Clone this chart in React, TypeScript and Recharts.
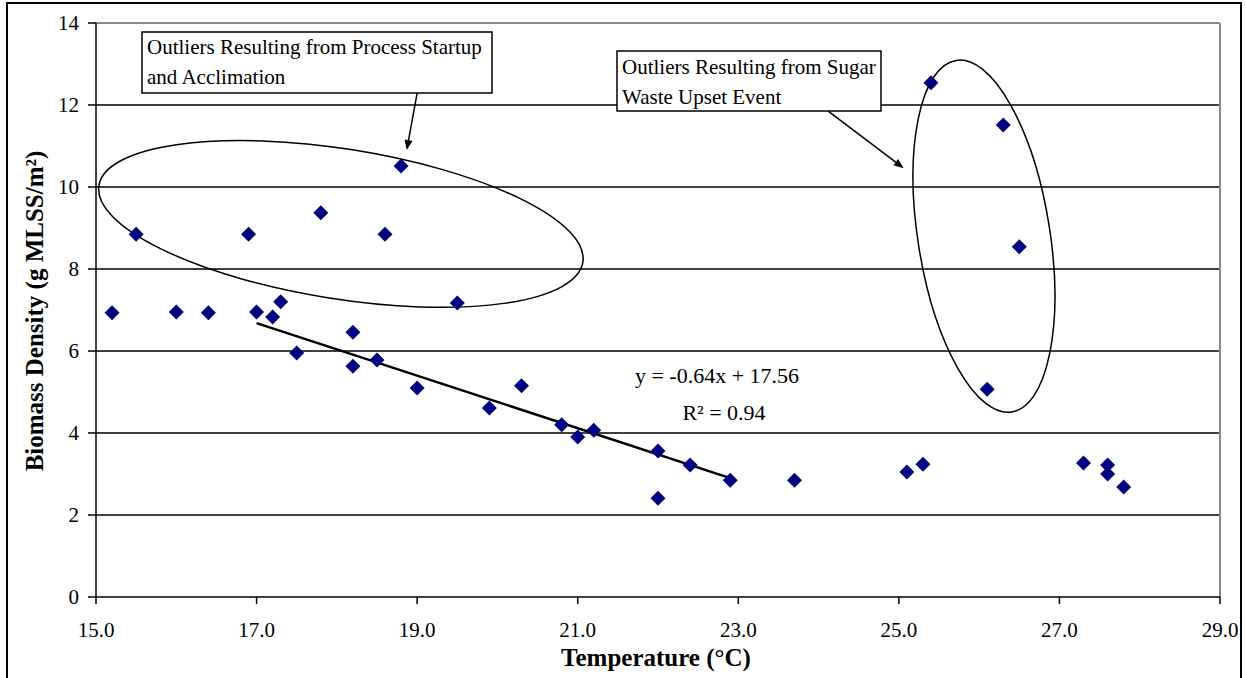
import { ScatterChart, Scatter, XAxis, YAxis, CartesianGrid, ReferenceLine, ReferenceDot } from 'recharts'

// temperature (°C) and biomass density (g MLSS/m²)
const temps = [15.2, 15.5, 16.0, 16.4, 16.9, 17.0, 17.2, 17.3, 17.5, 17.8, 18.2, 18.2, 18.5, 18.6, 18.8, 19.0, 19.5, 19.9, 20.3, 20.8, 21.0, 21.2, 22.0, 22.0, 22.4, 22.9, 23.7, 25.1, 25.3, 25.4, 26.1, 26.3, 26.5, 27.3, 27.6, 27.6, 27.8]
const density = [6.93, 8.85, 6.95, 6.93, 8.85, 6.95, 6.83, 7.2, 5.95, 9.37, 6.46, 5.63, 5.78, 8.85, 10.51, 5.1, 7.17, 4.61, 5.15, 4.2, 3.9, 4.07, 3.56, 2.41, 3.22, 2.85, 2.85, 3.05, 3.24, 12.54, 5.07, 11.51, 8.54, 3.27, 3.22, 3.0, 2.68]

// linear trend line end points
const trendX = [17.0, 22.9]
const trendY = [6.68, 2.9]

const xTicks = [15, 17, 19, 21, 23, 25, 27, 29]
const yTicks = [0, 2, 4, 6, 8, 10, 12, 14]

const points = temps.map((t, i) => ({ x: t, y: density[i] }))
const trend = trendX.map((t, i) => ({ x: t, y: trendY[i] }))

const FONT = "'Liberation Serif', 'Times New Roman', serif"
const NAVY = '#000080'

function Diamond(p: any) {
  const { cx, cy } = p
  const r = 7.5
  return <polygon points={`${cx},${cy - r} ${cx + r},${cy} ${cx},${cy + r} ${cx - r},${cy}`} fill={NAVY} />
}

function Arrow(p: any) {
  const { x1, y1, x2, y2 } = p
  const a = Math.atan2(y2 - y1, x2 - x1)
  const L = 10, W = 4
  const bx = x2 - L * Math.cos(a), by = y2 - L * Math.sin(a)
  const px = -Math.sin(a) * W, py = Math.cos(a) * W
  return (
    <g>
      <line x1={x1} y1={y1} x2={bx} y2={by} stroke="#000" strokeWidth={1.5} />
      <polygon points={`${x2},${y2} ${bx + px},${by + py} ${bx - px},${by - py}`} fill="#000" />
    </g>
  )
}

function ellipse(rx: number, ry: number, rot: number) {
  return (p: any) => (
    <ellipse cx={p.cx} cy={p.cy} rx={rx} ry={ry} transform={`rotate(${rot} ${p.cx} ${p.cy})`} fill="none" stroke="#000" strokeWidth={1.5} />
  )
}

export default function App() {
  const tick = { fontSize: 21, fill: '#000', fontFamily: FONT }
  return (
    <div style={{ position: 'absolute', left: 0, top: 0, width: 1246, height: 678, overflow: 'hidden', background: '#fff', fontFamily: FONT }}>
      <div style={{ position: 'absolute', left: 6, top: 2, width: 1236, height: 740, border: '2px solid #000', boxSizing: 'border-box' }} />
      <ScatterChart width={1246} height={678} margin={{ top: 23, right: 26, bottom: 0, left: 0 }} style={{ position: 'absolute', left: 0, top: 0 }}>
        <CartesianGrid vertical={false} horizontalValues={[2, 4, 6, 8, 10, 12]} stroke="#000" strokeWidth={1.5} />
        <ReferenceLine y={14} stroke="#8a8a8a" strokeWidth={2} />
        <ReferenceLine x={29} stroke="#8a8a8a" strokeWidth={2} />
        <XAxis type="number" dataKey="x" domain={[15, 29]} ticks={xTicks} tickFormatter={(v) => Number(v).toFixed(1)}
          height={81} tick={tick} tickSize={7} tickMargin={18} axisLine={{ stroke: '#000', strokeWidth: 1.5 }} tickLine={{ stroke: '#000', strokeWidth: 1.5 }} allowDataOverflow />
        <YAxis type="number" dataKey="y" domain={[0, 14]} ticks={yTicks} width={96}
          tick={tick} tickSize={8} tickMargin={9} axisLine={{ stroke: '#000', strokeWidth: 1.5 }} tickLine={{ stroke: '#000', strokeWidth: 1.5 }} allowDataOverflow />
        <ReferenceDot x={18.05} y={9.1} shape={ellipse(245, 75, 9)} />
        <ReferenceDot x={26.06} y={8.8} shape={ellipse(66, 178, -9)} />
        <ReferenceLine segment={[{ x: 19.0, y: 12.29 }, { x: 18.87, y: 10.9 }]} shape={Arrow} />
        <ReferenceLine segment={[{ x: 24.12, y: 11.85 }, { x: 25.06, y: 10.46 }]} shape={Arrow} />
        <Scatter data={trend} line={{ stroke: '#000', strokeWidth: 2.5 }} shape={() => null} isAnimationActive={false} />
        <Scatter data={points} shape={Diamond} isAnimationActive={false} />
      </ScatterChart>
      <svg width={1246} height={678} style={{ position: 'absolute', left: 0, top: 0, pointerEvents: 'none' }} fontFamily={FONT}>
        <rect x={142} y={32} width={350} height={61} fill="#fff" stroke="#000" strokeWidth={1.5} />
        <text x={147} y={54} fontSize={21}>Outliers Resulting from Process Startup</text>
        <text x={147} y={84} fontSize={21}>and Acclimation</text>
        <rect x={617} y={51} width={264} height={60} fill="#fff" stroke="#000" strokeWidth={1.5} />
        <text x={622} y={74} fontSize={21}>Outliers Resulting from Sugar</text>
        <text x={622} y={104} fontSize={21}>Waste Upset Event</text>
        <text x={717} y={383} fontSize={22} textAnchor="middle">y = -0.64x + 17.56</text>
        <text x={724} y={420} fontSize={22} textAnchor="middle">R² = 0.94</text>
        <text x={656} y={666} fontSize={25} fontWeight="bold" textAnchor="middle">Temperature (°C)</text>
        <text x={43} y={311} fontSize={25} fontWeight="bold" textAnchor="middle" transform="rotate(-90 43 311)">Biomass Density (g MLSS/m²)</text>
      </svg>
    </div>
  )
}
